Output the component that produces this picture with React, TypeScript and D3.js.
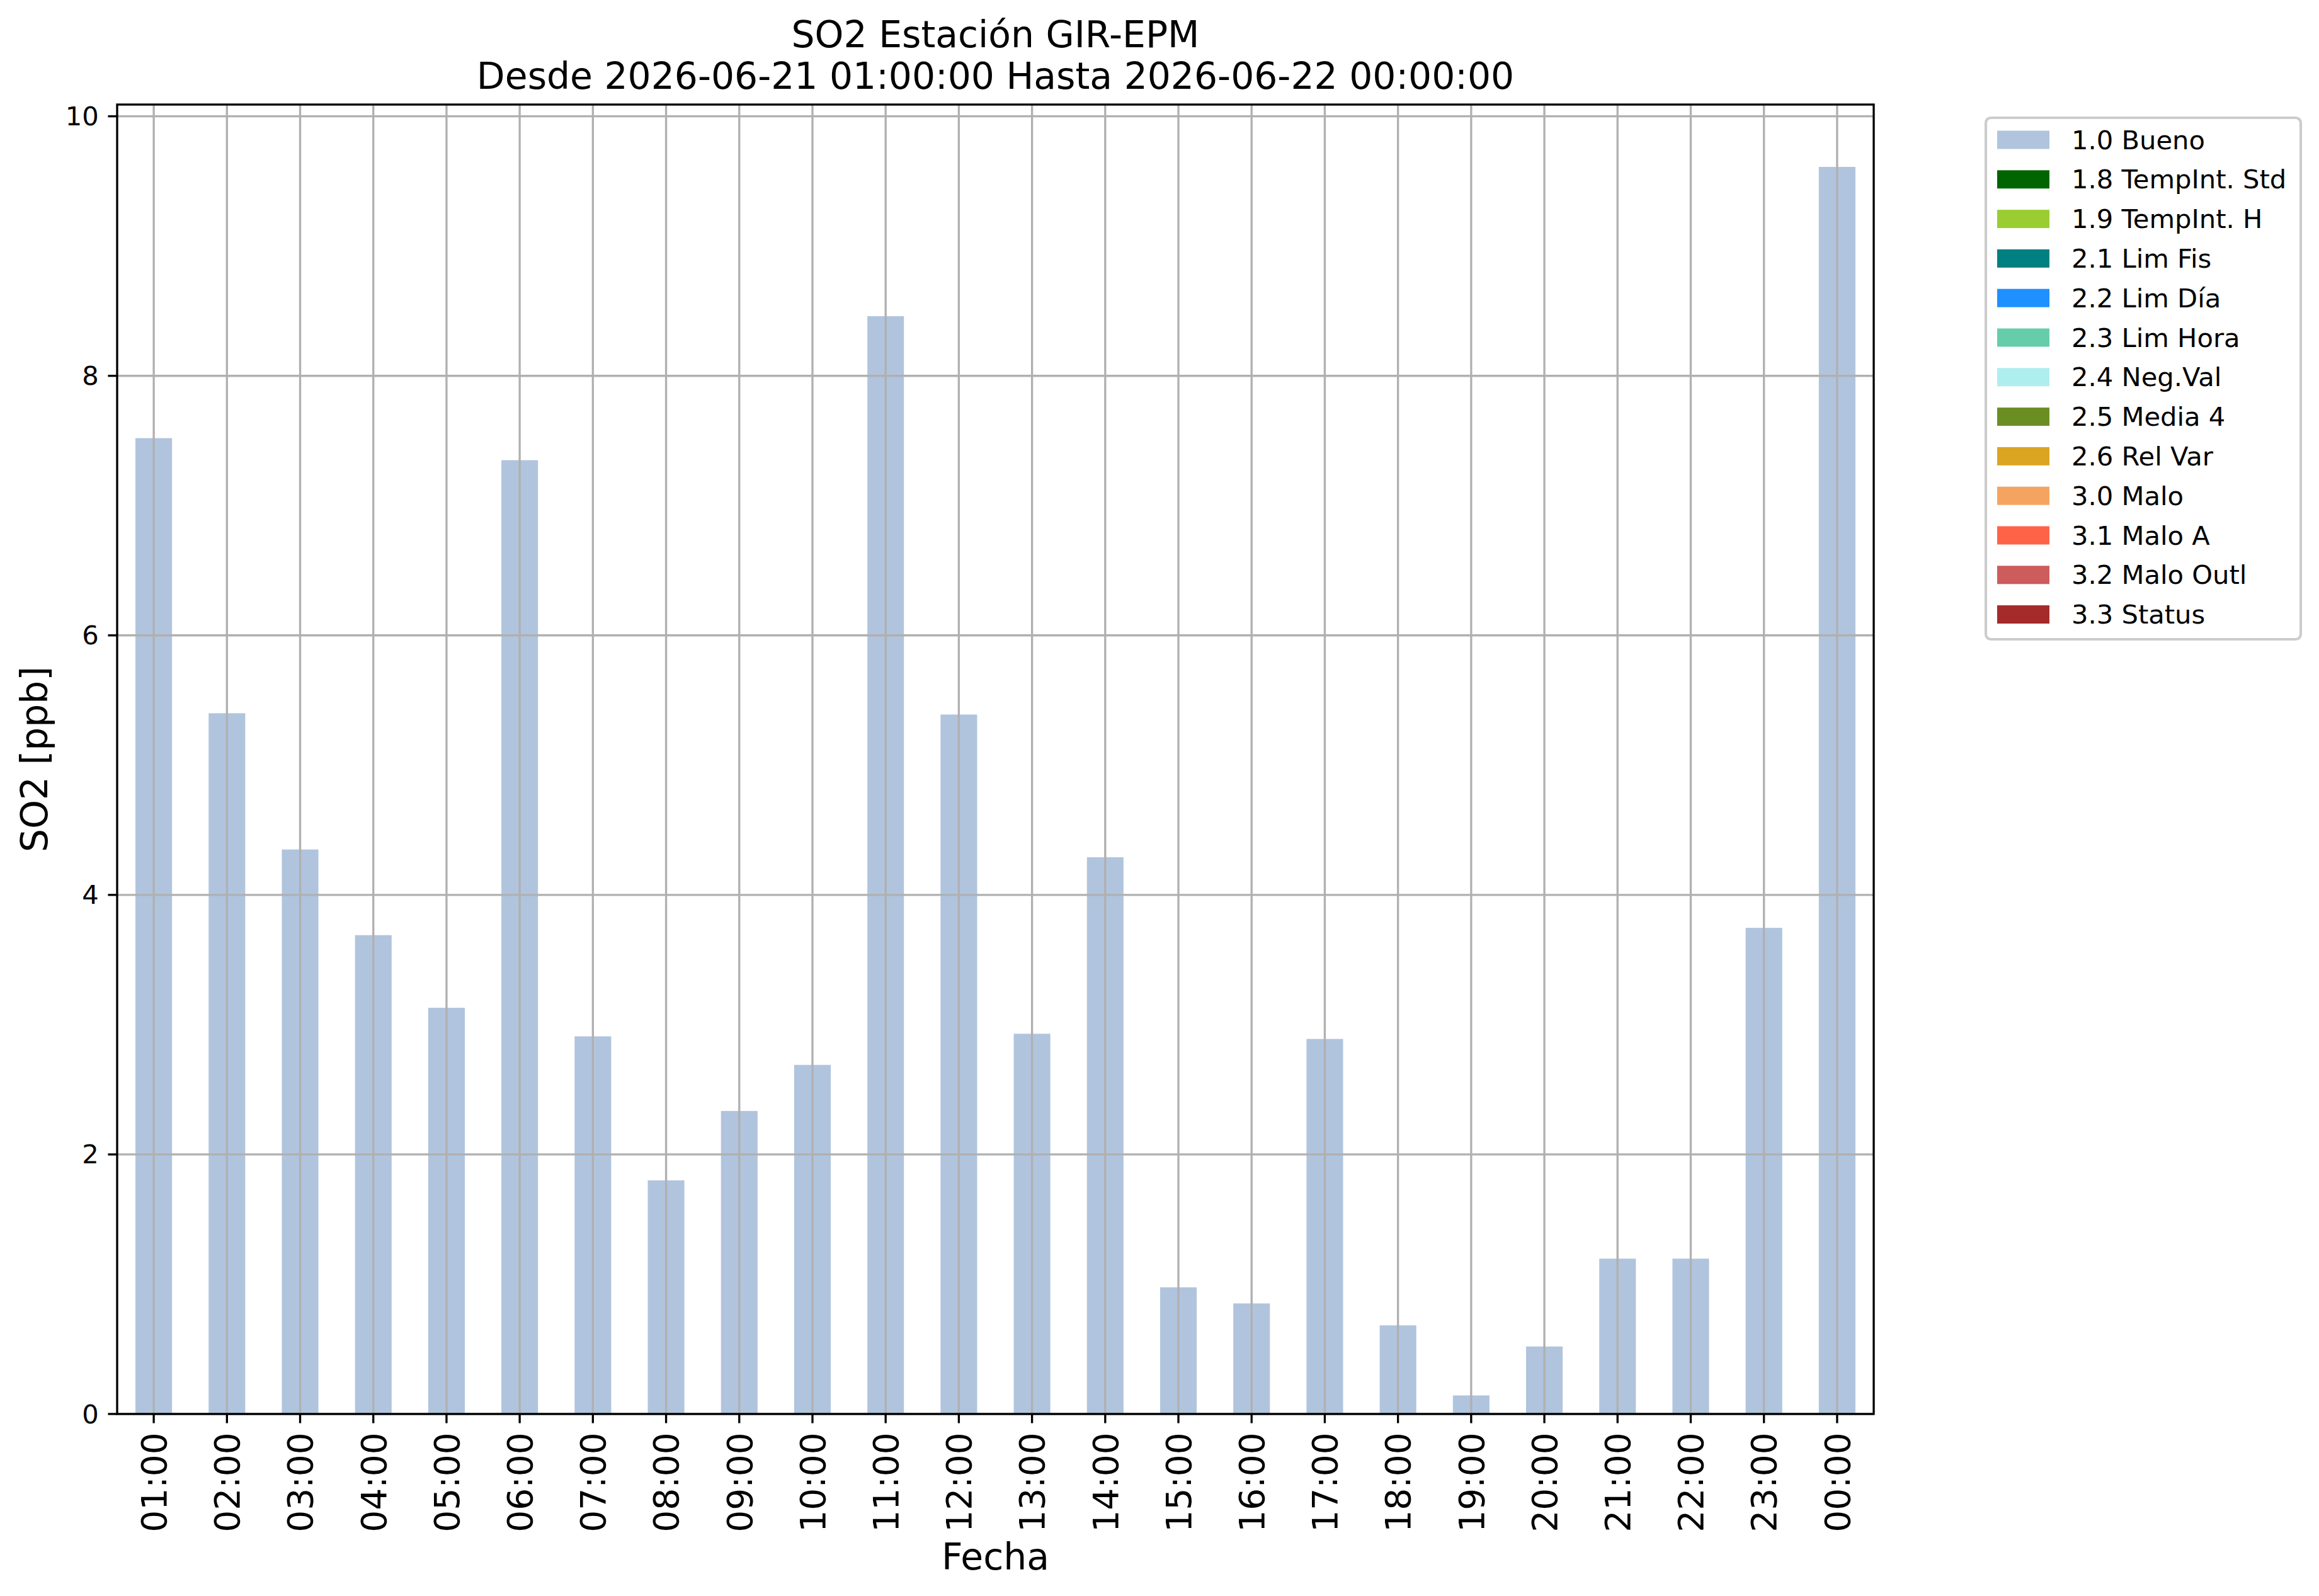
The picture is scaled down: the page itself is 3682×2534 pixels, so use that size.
import React from "react";
import * as d3 from "d3";

const hours = ["01:00","02:00","03:00","04:00","05:00","06:00","07:00","08:00","09:00","10:00","11:00","12:00","13:00","14:00","15:00","16:00","17:00","18:00","19:00","20:00","21:00","22:00","23:00","00:00"];
const so2Values = [7.52,5.40,4.35,3.69,3.13,7.35,2.91,1.80,2.335,2.69,8.46,5.39,2.93,4.29,0.976,0.852,2.89,0.683,0.143,0.52,1.197,1.197,3.746,9.61];
const yTicks = [0,2,4,6,8,10];
const legendLabels = ["1.0 Bueno","1.8 TempInt. Std","1.9 TempInt. H","2.1 Lim Fis","2.2 Lim Día","2.3 Lim Hora","2.4 Neg.Val","2.5 Media 4","2.6 Rel Var","3.0 Malo","3.1 Malo A","3.2 Malo Outl","3.3 Status"];
const legendColors = ["#b0c4de","#006400","#9acd32","#008080","#1e90ff","#66cdaa","#afeeee","#6b8e23","#daa520","#f4a460","#ff6347","#cd5c5c","#a52a2a"];
const titleLine1 = "SO2 Estación GIR-EPM";
const titleLine2 = "Desde 2026-06-21 01:00:00 Hasta 2026-06-22 00:00:00";

const W = 3682, H = 2534;
const L = 186, R = 2975, T = 166, B = 2245;
const FONT = "DejaVu Sans";
const PT = 300 / 72;

export default function App() {
  const x = d3.scaleBand<string>().domain(hours).range([L, R]).paddingInner(0.5).paddingOuter(0.25);
  const ymax = (d3.max(so2Values) as number) * 1.05;
  const y = d3.scaleLinear().domain([0, ymax]).range([B, T]);
  const cx = (L + R) / 2;
  const cy = (T + B) / 2;
  const gridW = 0.8 * PT;
  const tickLen = 3.5 * PT;
  const fsTick = 10 * PT;
  const fsXTick = 13.2 * PT;
  const fsLab = 14 * PT;
  const fsLeg = 10 * PT;

  const legX = 3153, legY = 187, legW = 500, legH = 828;
  const rowPitch = 62.8;
  const row0 = 222;

  return (
    <svg width={W} height={H} viewBox={`0 0 ${W} ${H}`} style={{ position: "absolute", left: 0, top: 0, background: "#fff" }} fontFamily={FONT}>
      <rect x={0} y={0} width={W} height={H} fill="#fff" />
      {hours.map((h, i) => (
        <rect key={h} x={x(h)} y={y(so2Values[i])} width={x.bandwidth()} height={B - y(so2Values[i])} fill="#b0c4de" />
      ))}
      {hours.map((h) => {
        const px = (x(h) as number) + x.bandwidth() / 2;
        return <line key={"gx" + h} x1={px} x2={px} y1={T} y2={B} stroke="#b0b0b0" strokeWidth={gridW} />;
      })}
      {yTicks.map((t) => (
        <line key={"gy" + t} x1={L} x2={R} y1={y(t)} y2={y(t)} stroke="#b0b0b0" strokeWidth={gridW} />
      ))}
      <rect x={L} y={T} width={R - L} height={B - T} fill="none" stroke="#000" strokeWidth={gridW} />
      {yTicks.map((t) => (
        <g key={"yt" + t}>
          <line x1={L - tickLen} x2={L} y1={y(t)} y2={y(t)} stroke="#000" strokeWidth={gridW} />
          <text x={L - tickLen - 3.5 * PT} y={y(t)} fontSize={fsTick} textAnchor="end" dominantBaseline="central">{t}</text>
        </g>
      ))}
      {hours.map((h) => {
        const px = (x(h) as number) + x.bandwidth() / 2;
        const ty = B + tickLen + 3.5 * PT;
        return (
          <g key={"xt" + h}>
            <line x1={px} x2={px} y1={B} y2={B + tickLen} stroke="#000" strokeWidth={gridW} />
            <text x={px} y={ty} fontSize={fsXTick} textAnchor="end" dy="0.36em" transform={`rotate(-90 ${px} ${ty})`}>{h}</text>
          </g>
        );
      })}
      <text x={cx} y={2492} fontSize={fsLab} textAnchor="middle">Fecha</text>
      <text x={75} y={cy} fontSize={fsLab} textAnchor="middle" transform={`rotate(-90 75 ${cy})`}>SO2 [ppb]</text>
      <text x={cx} y={75} fontSize={fsLab} textAnchor="middle">{titleLine1}</text>
      <text x={cx} y={141} fontSize={fsLab} textAnchor="middle">{titleLine2}</text>
      <rect x={legX} y={legY} width={legW} height={legH} rx={8} ry={8} fill="#fff" fillOpacity={0.8} stroke="#cccccc" strokeWidth={PT} />
      {legendLabels.map((lab, i) => {
        const yc = row0 + i * rowPitch;
        return (
          <g key={lab}>
            <rect x={3171} y={yc - 14.5} width={83} height={29} fill={legendColors[i]} />
            <text x={3289} y={yc} fontSize={fsLeg} dominantBaseline="central">{lab}</text>
          </g>
        );
      })}
    </svg>
  );
}
